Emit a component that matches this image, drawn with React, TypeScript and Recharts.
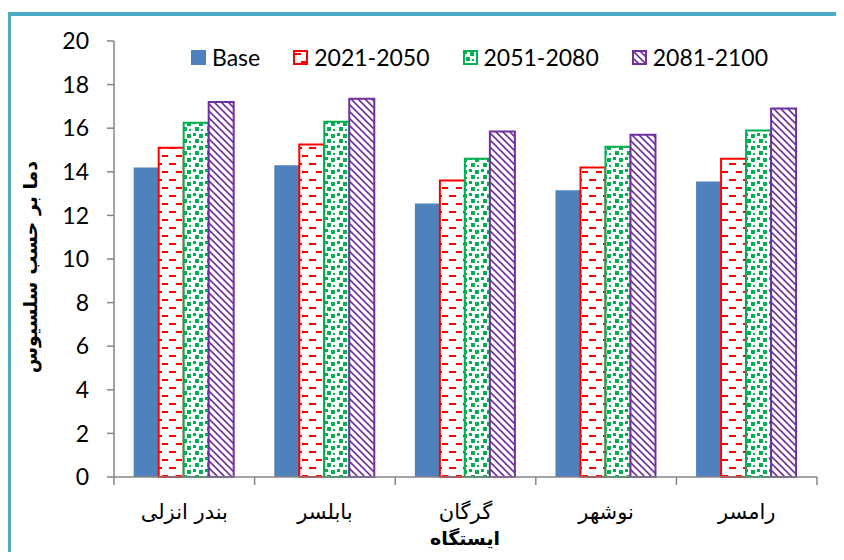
import React from 'react';
import { BarChart, Bar, XAxis, YAxis, Legend, Label } from 'recharts';

const stations = ['بندر انزلی', 'بابلسر', 'گرگان', 'نوشهر', 'رامسر'];
const baseTemp = [14.2, 14.3, 12.55, 13.15, 13.55];
const temp2021 = [15.1, 15.25, 13.6, 14.2, 14.6];
const temp2051 = [16.25, 16.3, 14.6, 15.15, 15.9];
const temp2081 = [17.2, 17.35, 15.85, 15.7, 16.9];
const yTicks = [0, 2, 4, 6, 8, 10, 12, 14, 16, 18, 20];

const data = stations.map((name, i) => ({
  name,
  base: baseTemp[i],
  p1: temp2021[i],
  p2: temp2051[i],
  p3: temp2081[i],
}));

const series = [
  { key: 'base', label: 'Base', fill: '#4F81BD', stroke: 'none' },
  { key: 'p1', label: '2021-2050', fill: 'url(#dashRed)', stroke: '#FF0000' },
  { key: 'p2', label: '2051-2080', fill: 'url(#dotGreen)', stroke: '#00B050' },
  { key: 'p3', label: '2081-2100', fill: 'url(#diagPurple)', stroke: '#7030A0' },
];

const AXIS = '#868686';
const LATIN = 'Lato, Calibri, sans-serif';
const PERSIAN = '"DejaVu Sans", Arial, sans-serif';

function Patterns() {
  return (
    <svg width={0} height={0} style={{ position: 'absolute' }}>
      <defs>
        <pattern id="dashRed" patternUnits="userSpaceOnUse" width={14} height={16}>
          <rect width={14} height={16} fill="#fff" />
          <rect x={1} y={3} width={7} height={2} fill="#FF0000" />
          <rect x={8} y={11} width={7} height={2} fill="#FF0000" />
        </pattern>
        <pattern id="dotGreen" patternUnits="userSpaceOnUse" width={12} height={12}>
          <rect width={12} height={12} fill="#fff" />
          <rect x={1} y={1} width={3} height={3} fill="#00B050" />
          <rect x={7} y={2} width={4} height={4} fill="#00B050" />
          <rect x={3} y={7} width={4} height={4} fill="#00B050" />
          <rect x={9} y={9} width={2} height={2} fill="#00B050" />
        </pattern>
        <pattern id="diagPurple" patternUnits="userSpaceOnUse" width={7} height={7}>
          <rect width={7} height={7} fill="#fff" />
          <path d="M0,0 L7,7 M-2,5 L2,9 M5,-2 L9,2" stroke="#7030A0" strokeWidth={1.6} />
        </pattern>
      </defs>
    </svg>
  );
}

function LegendBox() {
  return (
    <div style={{ display: 'flex', alignItems: 'center', fontFamily: LATIN, fontSize: 23 }}>
      {series.map((s) => (
        <div key={s.key} style={{ display: 'flex', alignItems: 'center', marginRight: 33 }}>
          <svg width={15} height={15} style={{ marginRight: 6 }}>
            <rect
              x={s.stroke === 'none' ? 0 : 1}
              y={s.stroke === 'none' ? 0 : 1}
              width={s.stroke === 'none' ? 15 : 13}
              height={s.stroke === 'none' ? 15 : 13}
              fill={s.fill}
              stroke={s.stroke}
              strokeWidth={2}
            />
          </svg>
          <span>{s.label}</span>
        </div>
      ))}
    </div>
  );
}

// category label plus the boundary tick marks between groups
function StationTick(props: any) {
  const { x, y, payload, index, visibleTicksCount } = props;
  const half = payload.offset ?? 70.3;
  return (
    <g>
      <line x1={x - half} x2={x - half} y1={y - 8} y2={y} stroke={AXIS} strokeWidth={1.5} />
      {index === visibleTicksCount - 1 && (
        <line x1={x + half} x2={x + half} y1={y - 8} y2={y} stroke={AXIS} strokeWidth={1.5} />
      )}
      <text x={x} y={y + 34} textAnchor="middle" fontFamily={PERSIAN} fontSize={21} fill="#000">
        {payload.value}
      </text>
    </g>
  );
}

export default function App() {
  return (
    <div style={{ position: 'relative', margin: -8, width: 844, height: 560, overflow: 'hidden', background: '#fff' }}>
      <Patterns />
      <div
        style={{
          position: 'absolute',
          left: 7,
          top: 12,
          width: 834,
          height: 600,
          boxSizing: 'border-box',
          border: '4px solid #4BACC6',
        }}
      />
      <div style={{ position: 'absolute', left: 0, top: 0 }}>
        <BarChart
          width={844}
          height={560}
          data={data}
          margin={{ top: 41, right: 27, bottom: 0, left: 0 }}
          barCategoryGap="14%"
          barGap={0}
        >
          <XAxis
            dataKey="name"
            height={83}
            stroke={AXIS}
            strokeWidth={1.5}
            tickLine={false}
            tickSize={8}
            tickMargin={0}
            tick={<StationTick />}
            interval={0}
          >
            <Label
              content={() => (
                <text x={465} y={545} textAnchor="middle" fontFamily={PERSIAN} fontWeight="bold" fontSize={19} fill="#000">
                  ایستگاه
                </text>
              )}
            />
          </XAxis>
          <YAxis
            width={114}
            domain={[0, 20]}
            ticks={yTicks}
            interval={0}
            stroke={AXIS}
            strokeWidth={1.5}
            tickSize={7}
            tickMargin={18}
            tick={{ fill: '#000', fontFamily: LATIN, fontSize: 23 }}
          >
            <Label
              content={() => (
                <text
                  x={30}
                  y={267}
                  transform="rotate(-90, 30, 267)"
                  textAnchor="middle"
                  dominantBaseline="central"
                  fontFamily={PERSIAN}
                  fontWeight="bold"
                  fontSize={19}
                  fill="#000"
                >
                  دما بر حسب سلسیوس
                </text>
              )}
            />
          </YAxis>
          <Legend
            layout="horizontal"
            verticalAlign="middle"
            align="center"
            wrapperStyle={{ top: 43, left: 191, width: 640 }}
            content={() => <LegendBox />}
          />
          {series.map((s) => (
            <Bar
              key={s.key}
              dataKey={s.key}
              name={s.label}
              fill={s.fill}
              stroke={s.stroke}
              strokeWidth={2}
              isAnimationActive={false}
            />
          ))}
        </BarChart>
      </div>
    </div>
  );
}
